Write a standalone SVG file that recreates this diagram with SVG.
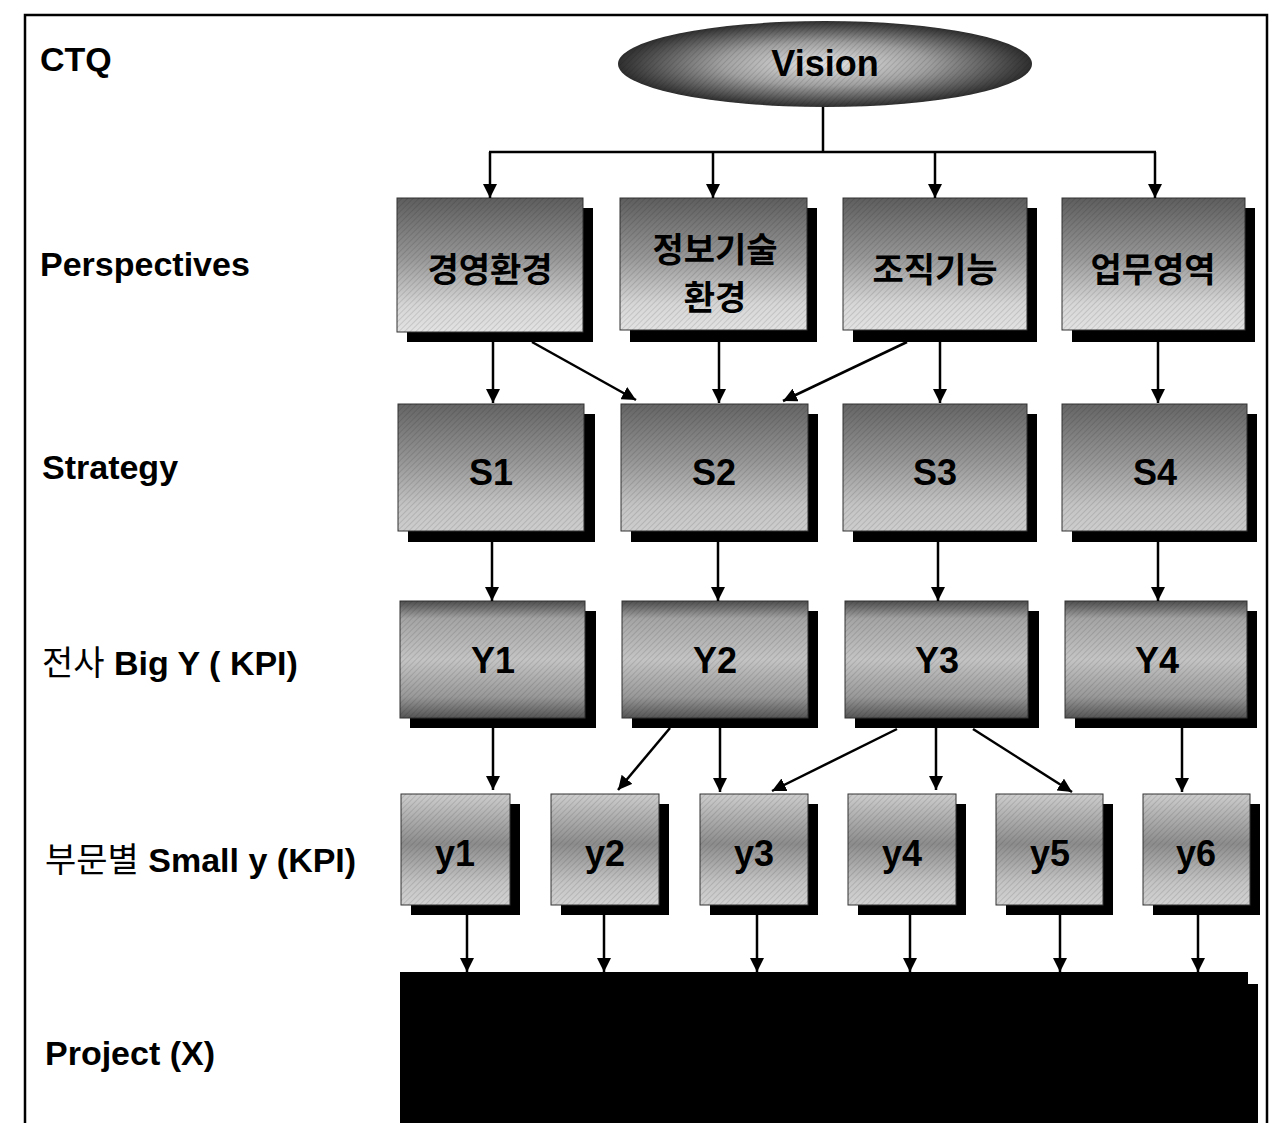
<svg xmlns="http://www.w3.org/2000/svg" width="1278" height="1123" viewBox="0 0 1278 1123">
<defs>
<linearGradient id="gP" x1="0" y1="0" x2="0" y2="1">
<stop offset="0" stop-color="#5e5e5e"/><stop offset="0.45" stop-color="#979797"/><stop offset="0.8" stop-color="#d6d6d6"/><stop offset="1" stop-color="#e2e2e2"/>
</linearGradient>
<linearGradient id="gS" x1="0" y1="0" x2="0" y2="1">
<stop offset="0" stop-color="#656565"/><stop offset="0.45" stop-color="#969696"/><stop offset="0.8" stop-color="#c4c4c4"/><stop offset="1" stop-color="#cdcdcd"/>
</linearGradient>
<linearGradient id="gY" x1="0" y1="0" x2="0" y2="1">
<stop offset="0" stop-color="#4e4e4e"/><stop offset="0.15" stop-color="#a4a4a4"/><stop offset="0.5" stop-color="#c4c4c4"/><stop offset="0.82" stop-color="#989898"/><stop offset="1" stop-color="#555555"/>
</linearGradient>
<linearGradient id="gy" x1="0" y1="0" x2="0" y2="1">
<stop offset="0" stop-color="#cdcdcd"/><stop offset="0.45" stop-color="#8c8c8c"/><stop offset="0.8" stop-color="#c4c4c4"/><stop offset="1" stop-color="#d2d2d2"/>
</linearGradient>
<radialGradient id="gV" cx="0.5" cy="0.5" r="0.5">
<stop offset="0" stop-color="#e4e4e4"/><stop offset="0.5" stop-color="#a0a0a0"/><stop offset="1" stop-color="#2e2e2e"/>
</radialGradient>
<pattern id="hatch" width="4" height="4" patternUnits="userSpaceOnUse" patternTransform="rotate(45)">
<line x1="0" y1="0" x2="0" y2="4" stroke="#000" stroke-width="1" stroke-opacity="0.22"/>
</pattern>
<marker id="ah" markerUnits="userSpaceOnUse" markerWidth="14" markerHeight="14" viewBox="0 0 14 14" refX="14" refY="7" orient="auto">
<path d="M0,0 L14,7 L0,14 z" fill="#000"/>
</marker>
</defs>
<style>
.lbl{font-family:"Liberation Sans","Noto Sans CJK KR",sans-serif;font-size:34px;font-weight:bold;fill:#000}
.kr{font-weight:normal}
.nt{font-family:"Liberation Sans","Noto Sans CJK KR",sans-serif;font-size:34px;font-weight:bold;fill:#000;text-anchor:middle}
.big{font-size:36px}
.sh{fill:#000}
.bx{stroke:#333;stroke-width:1}
.hx{fill:url(#hatch)}
.cn line{stroke:#000;stroke-width:2.5;fill:none}
.ar{marker-end:url(#ah)}
.frame{stroke:#000;stroke-width:2.5;fill:none}
</style>
<rect width="1278" height="1123" fill="#fff"/>
<path class="frame" d="M25,1123 L25,15 L1267,15 L1267,1123"/>

<g id="labels">
<text class="lbl" x="40" y="71">CTQ</text>
<text class="lbl" x="40" y="276">Perspectives</text>
<text class="lbl" x="42" y="479">Strategy</text>
<text class="lbl" x="42" y="675"><tspan class="kr">전사</tspan> Big Y ( KPI)</text>
<text class="lbl" x="45" y="872"><tspan class="kr">부문별</tspan> Small y (KPI)</text>
<text class="lbl" x="45" y="1065">Project (X)</text>
</g>

<g id="vision">
<ellipse cx="825" cy="64" rx="207" ry="43" fill="url(#gV)"/>
<ellipse cx="825" cy="64" rx="207" ry="43" class="hx"/>
<text class="nt big" x="825" y="76">Vision</text>
</g>

<g id="p1"><rect class="sh" x="407" y="208" width="186" height="134"/><rect class="bx" x="397" y="198" width="186" height="134" fill="url(#gP)"/><rect class="hx" x="397" y="198" width="186" height="134"/><text class="nt" x="490" y="282">경영환경</text></g>
<g id="p2"><rect class="sh" x="630" y="208" width="187" height="134"/><rect class="bx" x="620" y="198" width="187" height="132" fill="url(#gP)"/><rect class="hx" x="620" y="198" width="187" height="132"/><text class="nt" x="715" y="262">정보기술</text><text class="nt" x="715" y="310">환경</text></g>
<g id="p3"><rect class="sh" x="853" y="208" width="184" height="134"/><rect class="bx" x="843" y="198" width="184" height="132" fill="url(#gP)"/><rect class="hx" x="843" y="198" width="184" height="132"/><text class="nt" x="935" y="282">조직기능</text></g>
<g id="p4"><rect class="sh" x="1072" y="208" width="183" height="134"/><rect class="bx" x="1062" y="198" width="183" height="132" fill="url(#gP)"/><rect class="hx" x="1062" y="198" width="183" height="132"/><text class="nt" x="1153" y="282">업무영역</text></g>

<g id="s1"><rect class="sh" x="408" y="414" width="187" height="128"/><rect class="bx" x="398" y="404" width="186" height="127" fill="url(#gS)"/><rect class="hx" x="398" y="404" width="186" height="127"/><text class="nt big" x="491" y="485">S1</text></g>
<g id="s2"><rect class="sh" x="631" y="414" width="187" height="128"/><rect class="bx" x="621" y="404" width="187" height="127" fill="url(#gS)"/><rect class="hx" x="621" y="404" width="187" height="127"/><text class="nt big" x="714" y="485">S2</text></g>
<g id="s3"><rect class="sh" x="853" y="414" width="184" height="128"/><rect class="bx" x="843" y="404" width="184" height="127" fill="url(#gS)"/><rect class="hx" x="843" y="404" width="184" height="127"/><text class="nt big" x="935" y="485">S3</text></g>
<g id="s4"><rect class="sh" x="1072" y="414" width="185" height="128"/><rect class="bx" x="1062" y="404" width="185" height="127" fill="url(#gS)"/><rect class="hx" x="1062" y="404" width="185" height="127"/><text class="nt big" x="1155" y="485">S4</text></g>

<g id="Y1"><rect class="sh" x="410" y="611" width="186" height="117"/><rect class="bx" x="400" y="601" width="185" height="117" fill="url(#gY)"/><rect class="hx" x="400" y="601" width="185" height="117"/><text class="nt big" x="493" y="673">Y1</text></g>
<g id="Y2"><rect class="sh" x="632" y="611" width="186" height="117"/><rect class="bx" x="622" y="601" width="186" height="117" fill="url(#gY)"/><rect class="hx" x="622" y="601" width="186" height="117"/><text class="nt big" x="715" y="673">Y2</text></g>
<g id="Y3"><rect class="sh" x="855" y="611" width="184" height="117"/><rect class="bx" x="845" y="601" width="183" height="117" fill="url(#gY)"/><rect class="hx" x="845" y="601" width="183" height="117"/><text class="nt big" x="937" y="673">Y3</text></g>
<g id="Y4"><rect class="sh" x="1075" y="611" width="182" height="117"/><rect class="bx" x="1065" y="601" width="182" height="117" fill="url(#gY)"/><rect class="hx" x="1065" y="601" width="182" height="117"/><text class="nt big" x="1157" y="673">Y4</text></g>

<g id="y1"><rect class="sh" x="411" y="804" width="109" height="111"/><rect class="bx" x="401" y="794" width="109" height="111" fill="url(#gy)"/><rect class="hx" x="401" y="794" width="109" height="111"/><text class="nt big" x="455" y="866">y1</text></g>
<g id="y2"><rect class="sh" x="561" y="804" width="108" height="111"/><rect class="bx" x="551" y="794" width="108" height="111" fill="url(#gy)"/><rect class="hx" x="551" y="794" width="108" height="111"/><text class="nt big" x="605" y="866">y2</text></g>
<g id="y3"><rect class="sh" x="710" y="804" width="108" height="111"/><rect class="bx" x="700" y="794" width="108" height="111" fill="url(#gy)"/><rect class="hx" x="700" y="794" width="108" height="111"/><text class="nt big" x="754" y="866">y3</text></g>
<g id="y4"><rect class="sh" x="858" y="804" width="108" height="111"/><rect class="bx" x="848" y="794" width="108" height="111" fill="url(#gy)"/><rect class="hx" x="848" y="794" width="108" height="111"/><text class="nt big" x="902" y="866">y4</text></g>
<g id="y5"><rect class="sh" x="1006" y="804" width="107" height="111"/><rect class="bx" x="996" y="794" width="107" height="111" fill="url(#gy)"/><rect class="hx" x="996" y="794" width="107" height="111"/><text class="nt big" x="1050" y="866">y5</text></g>
<g id="y6"><rect class="sh" x="1153" y="804" width="107" height="111"/><rect class="bx" x="1143" y="794" width="107" height="111" fill="url(#gy)"/><rect class="hx" x="1143" y="794" width="107" height="111"/><text class="nt big" x="1196" y="866">y6</text></g>

<g id="project"><rect class="sh" x="410" y="984" width="848" height="139"/><rect x="400" y="972" width="848" height="151" fill="#000"/></g>

<g id="connectors" class="cn">
<line x1="823" y1="107" x2="823" y2="152"/>
<line x1="489" y1="152" x2="1156" y2="152"/>
<line class="ar" x1="490" y1="152" x2="490" y2="198"/>
<line class="ar" x1="713" y1="152" x2="713" y2="198"/>
<line class="ar" x1="935" y1="152" x2="935" y2="198"/>
<line class="ar" x1="1155" y1="152" x2="1155" y2="198"/>

<line class="ar" x1="493" y1="342" x2="493" y2="403"/>
<line class="ar" x1="532" y1="342" x2="636" y2="400"/>
<line class="ar" x1="719" y1="342" x2="719" y2="403"/>
<line class="ar" x1="907" y1="342" x2="783" y2="401"/>
<line class="ar" x1="940" y1="342" x2="940" y2="403"/>
<line class="ar" x1="1158" y1="342" x2="1158" y2="403"/>

<line class="ar" x1="492" y1="542" x2="492" y2="601"/>
<line class="ar" x1="718" y1="542" x2="718" y2="601"/>
<line class="ar" x1="938" y1="542" x2="938" y2="601"/>
<line class="ar" x1="1158" y1="542" x2="1158" y2="601"/>

<line class="ar" x1="493" y1="728" x2="493" y2="790"/>
<line class="ar" x1="670" y1="728" x2="618" y2="790"/>
<line class="ar" x1="720" y1="728" x2="720" y2="792"/>
<line class="ar" x1="897" y1="729" x2="772" y2="791"/>
<line class="ar" x1="936" y1="728" x2="936" y2="790"/>
<line class="ar" x1="973" y1="729" x2="1072" y2="792"/>
<line class="ar" x1="1182" y1="728" x2="1182" y2="792"/>

<line class="ar" x1="467" y1="915" x2="467" y2="972"/>
<line class="ar" x1="604" y1="915" x2="604" y2="972"/>
<line class="ar" x1="757" y1="915" x2="757" y2="972"/>
<line class="ar" x1="910" y1="915" x2="910" y2="972"/>
<line class="ar" x1="1060" y1="915" x2="1060" y2="972"/>
<line class="ar" x1="1198" y1="915" x2="1198" y2="972"/>
</g>
</svg>
